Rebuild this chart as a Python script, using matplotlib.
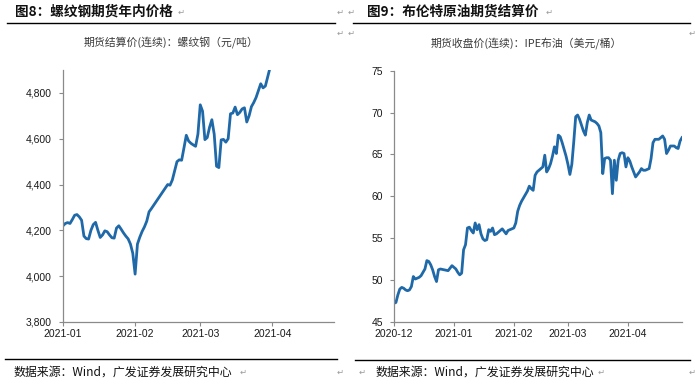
import matplotlib
matplotlib.use("Agg")
import matplotlib.pyplot as plt
from matplotlib.lines import Line2D
import datetime as dt

# ---------------- data ----------------
rebar_start = "2021-01-01"
rebar_day_offsets = [0, 1, 2, 3, 4, 5, 6, 7, 8, 9, 10, 11, 12, 13, 14, 15, 16, 17, 18, 19,
                     20, 21, 22, 23, 24, 25, 26, 27, 28, 29, 30, 31, 32, 33, 34, 35, 36, 37, 38, 39,
                     45, 46, 47, 48, 49, 50, 51, 52, 53, 54, 55, 56, 57, 58, 59, 60, 61, 62, 63, 64,
                     65, 66, 67, 68, 69, 70, 71, 72, 73, 74, 75, 76, 77, 78, 79, 80, 81, 82, 83, 84,
                     85, 86, 87, 88, 89]
rebar_values = [4220, 4230, 4234, 4230, 4247, 4266, 4269, 4259, 4244, 4175, 4164, 4162, 4200, 4225, 4235, 4200, 4169, 4180, 4198, 4194,
                4180, 4168, 4166, 4210, 4220, 4205, 4189, 4175, 4163, 4140, 4100, 4009, 4140, 4170, 4195, 4215, 4240, 4281, 4295, 4310,
                4400, 4397, 4420, 4460, 4500, 4508, 4506, 4560, 4615, 4590, 4580, 4573, 4567, 4620, 4748, 4720, 4596, 4605, 4650, 4683,
                4620, 4480, 4474, 4595, 4597, 4585, 4600, 4709, 4712, 4738, 4705, 4715, 4730, 4735, 4673, 4700, 4740, 4758, 4780, 4810,
                4840, 4822, 4830, 4870, 4910]

brent_start = "2020-12-01"
brent_day_offsets = [0, 1, 2, 3, 4, 5, 6, 7, 8, 9, 10, 11, 12, 13, 14, 15, 16, 17, 18, 19,
                     20, 21, 22, 23, 24, 26, 28, 30, 31, 32, 33, 34, 35, 36, 37, 38, 39, 40, 41, 42,
                     43, 44, 45, 46, 47, 48, 49, 50, 51, 52, 53, 54, 56, 57, 58, 59, 60, 62, 63, 64,
                     65, 66, 67, 68, 69, 70, 71, 72, 73, 74, 75, 76, 77, 78, 79, 80, 81, 82, 83, 84,
                     85, 86, 87, 88, 89, 90, 91, 92, 93, 94, 95, 96, 97, 98, 99, 100, 101, 102, 103, 104,
                     105, 106, 107, 108, 109, 110, 111, 112, 113, 114, 115, 116, 117, 118, 119, 120, 121, 122, 123, 124,
                     125, 126, 127, 128, 129, 130, 132, 133, 134, 135, 136, 137, 138, 139, 140, 141, 142, 143, 145, 146,
                     147, 148, 149]
brent_values = [47.2, 47.3, 48.2, 48.9, 49.1, 49.0, 48.8, 48.7, 48.8, 49.2, 50.4, 50.1, 50.2, 50.3, 50.5, 50.9, 51.3, 52.3, 52.2, 51.8,
                51.2, 50.4, 49.8, 51.2, 51.3, 51.2, 51.1, 51.7, 51.5, 51.3, 50.9, 50.6, 50.8, 53.6, 54.2, 56.2, 56.3, 55.9, 55.6, 56.8,
                56.0, 56.6, 55.5, 54.9, 54.7, 54.8, 56.0, 55.8, 56.2, 55.4, 55.5, 55.7, 56.1, 55.8, 55.5, 55.9, 56.0, 56.2, 56.8, 58.2,
                58.9, 59.4, 59.8, 60.2, 60.6, 61.2, 60.9, 60.7, 62.5, 62.9, 63.1, 63.3, 63.5, 64.9, 62.9, 63.3, 63.9, 64.8, 65.9, 65.1,
                67.3, 67.1, 66.4, 65.6, 64.8, 63.8, 62.6, 63.8, 66.5, 69.5, 69.7, 69.2, 68.5, 67.8, 67.3, 68.8, 69.7, 69.1, 69.0, 68.9,
                68.7, 68.4, 67.6, 62.7, 64.5, 64.6, 64.6, 64.3, 60.3, 64.3, 61.9, 64.3, 65.1, 65.2, 65.1, 63.5, 64.6, 64.2, 63.5, 62.9,
                62.3, 62.6, 62.9, 63.3, 63.1, 63.1, 63.3, 64.5, 66.4, 66.8, 66.8, 66.8, 67.0, 67.2, 66.8, 65.1, 65.5, 66.0, 66.0, 65.8,
                65.7, 66.6, 67.0]

rebar_ticks = ["2021-01", "2021-02", "2021-03", "2021-04"]
brent_ticks = ["2020-12", "2021-01", "2021-02", "2021-03", "2021-04"]
rebar_yticks = [3800, 4000, 4200, 4400, 4600, 4800]
brent_yticks = [45, 50, 55, 60, 65, 70, 75]

title_left = "图8：螺纹钢期货年内价格"
title_right = "图9：布伦特原油期货结算价"
sub_left = "期货结算价(连续)：螺纹钢（元/吨）"
sub_right = "期货收盘价(连续)：IPE布油（美元/桶）"
source = "数据来源：Wind，广发证券发展研究中心"

# ---------------- drawing ----------------
W, H = 695, 384
fig = plt.figure(figsize=(W / 100, H / 100), dpi=100)
fig.patch.set_facecolor("white")

cjk = ["Noto Sans CJK SC", "DejaVu Sans"]
latin = "Liberation Sans"
line_color = "#1f69a9"
spine_color = "#8a8a8a"


def fx(px):
    return px / W


def fy(py):
    return 1 - py / H


def to_dates(start, offsets):
    s = dt.datetime.strptime(start, "%Y-%m-%d")
    return [s + dt.timedelta(days=o) for o in offsets]


def month_dates(labels):
    return [dt.datetime.strptime(l + "-01", "%Y-%m-%d") for l in labels]


def style_axes(ax):
    for s in ["top", "right"]:
        ax.spines[s].set_visible(False)
    for s in ["left", "bottom"]:
        ax.spines[s].set_color(spine_color)
        ax.spines[s].set_linewidth(0.9)
    ax.tick_params(axis="both", colors=spine_color, length=3, width=0.8,
                   labelcolor="#1a1a1a", labelsize=7.5)
    ax.tick_params(axis="y", pad=5)
    ax.tick_params(axis="x", pad=2)
    for lab in ax.get_xticklabels() + ax.get_yticklabels():
        lab.set_fontfamily(latin)


# Left chart
axL = fig.add_axes([fx(63), fy(322), fx(334 - 63), (322 - 70) / H])
xl = to_dates(rebar_start, rebar_day_offsets)
axL.plot(xl, rebar_values, color=line_color, lw=2.0, solid_joinstyle="round")
axL.set_ylim(3800, 4900)
axL.set_xlim(dt.datetime(2021, 1, 1), dt.datetime(2021, 4, 27, 12))
axL.set_yticks(rebar_yticks)
axL.set_yticklabels([f"{v:,}" for v in rebar_yticks])
axL.set_xticks(month_dates(rebar_ticks))
axL.set_xticklabels(rebar_ticks)
style_axes(axL)

# Right chart
axR = fig.add_axes([fx(394), fy(321.7), fx(682 - 394), (321.7 - 70.7) / H])
xr = to_dates(brent_start, brent_day_offsets)
axR.plot(xr, brent_values, color=line_color, lw=2.0, solid_joinstyle="round")
axR.set_ylim(45, 75)
axR.set_xlim(dt.datetime(2020, 12, 1), dt.datetime(2021, 4, 29))
axR.set_yticks(brent_yticks)
axR.set_yticklabels([str(v) for v in brent_yticks])
axR.set_xticks(month_dates(brent_ticks))
axR.set_xticklabels(brent_ticks)
style_axes(axR)

# Titles
fig.text(fx(15), fy(12), title_left, family=cjk, fontsize=9.8, fontweight="bold",
         ha="left", va="center", color="#111111")
fig.text(fx(367), fy(12), title_right, family=cjk, fontsize=9.8, fontweight="bold",
         ha="left", va="center", color="#111111")

# Subtitles
fig.text(fx(171), fy(43), sub_left, family=cjk, fontsize=7.8, ha="center", va="center",
         color="#3a3a3a")
fig.text(fx(526), fy(43), sub_right, family=cjk, fontsize=7.8, ha="center", va="center",
         color="#3a3a3a")

# Sources
fig.text(fx(13), fy(372), source, family=cjk, fontsize=8.6, ha="left", va="center",
         color="#111111")
fig.text(fx(375), fy(372), source, family=cjk, fontsize=8.6, ha="left", va="center",
         color="#111111")

# Header/footer rules
for (x0, x1, y) in [(7, 335, 23), (353, 690, 23), (5, 337, 359), (355, 690, 360)]:
    fig.add_artist(Line2D([fx(x0), fx(x1)], [fy(y), fy(y)], color="black", lw=1.0,
                          transform=fig.transFigure))

# Paragraph marks
marks = [(181, 12), (340, 12), (340, 33), (351, 12), (351, 33), (549, 12), (692, 33),
         (243, 372), (340, 372), (362, 372), (601, 372), (692, 372)]
for (x, y) in marks:
    fig.text(fx(x), fy(y), "\u21b5", family="DejaVu Sans", fontsize=6, color="#9a9a9a",
             ha="center", va="center")

fig.savefig("out.png", dpi=100, facecolor="white")
